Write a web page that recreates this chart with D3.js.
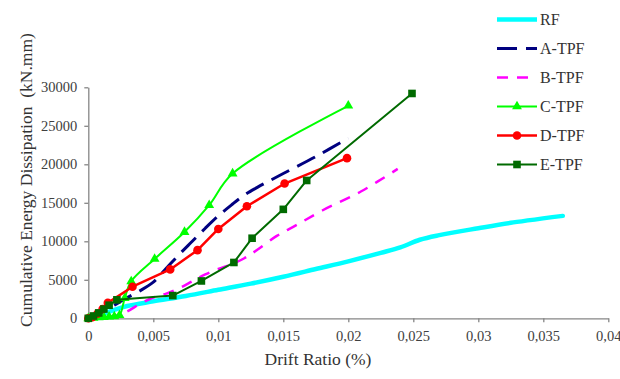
<!DOCTYPE html>
<html>
<head>
<meta charset="utf-8">
<script src="https://cdn.jsdelivr.net/npm/d3@7"></script>
<style>
  body { margin: 0; background: #fff; }
  svg { display: block; font-family: "Liberation Serif", "Times New Roman", serif; }
</style>
</head>
<body>
<svg id="chart" width="620" height="379"></svg>
<script>
// drift ratio (x) and cumulative energy (y) per specimen
const rfX = [0, 0.001, 0.002, 0.003, 0.005, 0.0075, 0.01, 0.0125, 0.015, 0.0175, 0.02, 0.0225, 0.024, 0.0255, 0.027, 0.03, 0.0325, 0.0365]
const rfY = [0, 500, 1100, 1600, 2200, 2900, 3700, 4500, 5400, 6400, 7400, 8500, 9200, 10200, 10800, 11700, 12400, 13300]

const aX = [0, 0.001, 0.002, 0.003, 0.004, 0.005, 0.006, 0.007, 0.008, 0.009, 0.01, 0.011, 0.012, 0.013, 0.015, 0.0175, 0.02]
const aY = [0, 700, 1700, 2700, 3600, 4700, 6500, 8300, 10000, 11700, 13300, 14700, 16000, 17000, 18800, 21000, 23400]

const bX = [0, 0.001, 0.002, 0.003, 0.004, 0.005, 0.006, 0.007, 0.008, 0.009, 0.01, 0.011, 0.012, 0.013, 0.0145, 0.016, 0.018, 0.021, 0.0238]
const bY = [0, 100, 300, 900, 1900, 2700, 3200, 3900, 4800, 5700, 6400, 7000, 7800, 8900, 10700, 12100, 14000, 16500, 19400]

const cX = [0, 0.0004, 0.0008, 0.0012, 0.0016, 0.002, 0.0024, 0.0028, 0.0033, 0.0051, 0.0074, 0.0093, 0.0111, 0.02]
const cY = [0, 50, 100, 150, 200, 250, 400, 2600, 4800, 7700, 11200, 14700, 18800, 27600]

const dX = [0, 0.0003, 0.0007, 0.0011, 0.0015, 0.0034, 0.0063, 0.0084, 0.01, 0.0122, 0.0151, 0.0199]
const dY = [0, 150, 600, 1200, 2000, 4100, 6350, 8850, 11600, 14550, 17500, 20800]

const eX = [0, 0.0004, 0.0008, 0.0012, 0.0016, 0.0022, 0.0065, 0.0087, 0.0112, 0.0126, 0.015, 0.0168, 0.0249]
const eY = [0, 300, 700, 1200, 1700, 2400, 2950, 4850, 7250, 10400, 14150, 17900, 29200]

const xTicks = [0, 0.005, 0.01, 0.015, 0.02, 0.025, 0.03, 0.035, 0.04]
const yTicks = [0, 5000, 10000, 15000, 20000, 25000, 30000]

const xTitle = "Drift Ratio (%)"
const yTitle = "Cumulative Energy Dissipation  (kN.mm)"

const series = [
	{ name: "RF", xs: rfX, ys: rfY, color: "#00ffff", width: 4.5, dash: null, marker: null, smooth: true },
	{ name: "A-TPF", xs: aX, ys: aY, color: "#000080", width: 3, dash: "20,9", marker: null, smooth: true },
	{ name: "B-TPF", xs: bX, ys: bY, color: "#ff00ff", width: 2.5, dash: "11,9", marker: null, smooth: true },
	{ name: "C-TPF", xs: cX, ys: cY, color: "#00ff00", width: 2, dash: null, marker: "triangle", smooth: true },
	{ name: "D-TPF", xs: dX, ys: dY, color: "#ff0000", width: 2.5, dash: null, marker: "circle", smooth: false },
	{ name: "E-TPF", xs: eX, ys: eY, color: "#006a00", width: 2, dash: null, marker: "square", smooth: false }
]

const svg = d3.select("#chart")

const x = d3.scaleLinear().domain([0, 0.04]).range([88.3, 608.3])
const y = d3.scaleLinear().domain([0, 30000]).range([318.3, 87.3])

const axisColor = "#868686"
const labelColor = "#404040"

// axes
const fmtX = d => (d === 0 ? "0" : String(+d.toFixed(3)).replace(".", ","))

const gx = svg.append("g")
	.attr("transform", `translate(0,${y(0)})`)
	.call(d3.axisBottom(x).tickValues(xTicks).tickFormat(fmtX).tickSize(4).tickSizeOuter(0))
gx.select(".domain").attr("stroke", axisColor).attr("stroke-width", 1.3)
gx.selectAll(".tick line").attr("stroke", axisColor).attr("stroke-width", 1.3)
gx.selectAll(".tick text")
	.attr("fill", labelColor)
	.attr("font-size", 14.5)
	.attr("font-family", "Liberation Serif, serif")
	.attr("dy", null)
	.attr("y", 23)

const gy = svg.append("g")
	.attr("transform", `translate(${x(0)},0)`)
	.call(d3.axisLeft(y).tickValues(yTicks).tickFormat(d => String(d)).tickSize(4).tickSizeOuter(0))
gy.select(".domain").attr("stroke", axisColor).attr("stroke-width", 1.3)
gy.selectAll(".tick line").attr("stroke", axisColor).attr("stroke-width", 1.3)
gy.selectAll(".tick text")
	.attr("fill", labelColor)
	.attr("font-size", 14.5)
	.attr("font-family", "Liberation Serif, serif")
	.attr("x", -11)

svg.append("text")
	.attr("x", 318)
	.attr("y", 365)
	.attr("text-anchor", "middle")
	.attr("font-size", 17.5)
	.attr("fill", "#333")
	.text(xTitle)

svg.append("text")
	.attr("transform", "translate(32,180) rotate(-90)")
	.attr("text-anchor", "middle")
	.attr("font-size", 17.5)
	.attr("fill", "#333")
	.style("white-space", "pre")
	.text(yTitle)

// markers
const drawMarker = (g, type, color, cx, cy) => {
	if (type === "triangle") {
		g.append("path")
			.attr("d", d3.symbol(d3.symbolTriangle, 42)())
			.attr("transform", `translate(${cx},${cy})`)
			.attr("fill", color)
	} else if (type === "circle") {
		g.append("circle").attr("cx", cx).attr("cy", cy).attr("r", 4.3).attr("fill", color)
	} else if (type === "square") {
		g.append("rect").attr("x", cx - 3.8).attr("y", cy - 3.8).attr("width", 7.6).attr("height", 7.6).attr("fill", color)
	}
}

const plot = svg.append("g")

series.forEach(s => {
	const pts = s.xs.map((v, i) => [v, s.ys[i]])
	const line = d3.line()
		.x(d => x(d[0]))
		.y(d => y(d[1]))
		.curve(s.smooth ? d3.curveCatmullRom.alpha(0.5) : d3.curveLinear)
	plot.append("path")
		.datum(pts)
		.attr("fill", "none")
		.attr("stroke", s.color)
		.attr("stroke-width", s.width)
		.attr("stroke-dasharray", s.dash)
		.attr("stroke-linejoin", "round")
		.attr("stroke-linecap", s.dash ? "butt" : "round")
		.attr("d", line)
	if (s.marker) {
		pts.forEach(p => drawMarker(plot, s.marker, s.color, x(p[0]), y(p[1])))
	}
})

// legend
const legend = svg.append("g")
series.forEach((s, i) => {
	const ly = 19.5 + i * 29
	legend.append("line")
		.attr("x1", 497).attr("x2", 537)
		.attr("y1", ly).attr("y2", ly)
		.attr("stroke", s.color)
		.attr("stroke-width", s.width)
		.attr("stroke-dasharray", s.dash)
	if (s.marker) drawMarker(legend, s.marker, s.color, 517, ly)
	legend.append("text")
		.attr("x", 540)
		.attr("y", ly + 5.5)
		.attr("font-size", 16)
		.attr("fill", "#333")
		.text(s.name)
})
</script>
</body>
</html>
